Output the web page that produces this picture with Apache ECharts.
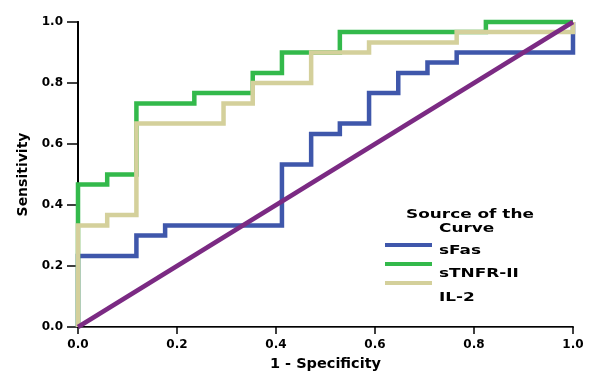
<!DOCTYPE html>
<html>
<head>
<meta charset="utf-8">
<script src="https://cdn.jsdelivr.net/npm/echarts@6/dist/echarts.min.js"></script>
<style>html,body{margin:0;padding:0;background:#fff;}#c{width:600px;height:379px;}</style>
</head>
<body>
<div id="c"></div>
<script>
// ROC curve vertices: [1 - specificity, sensitivity]
const seriesNames = ['sFas', 'sTNFR-II', 'IL-2'];
const seriesColors = ['#3f57ab', '#33b94b', '#d4d09b'];
const refColor = '#7b2a83';

const sFas = [[0,0],[0,0.233],[0.118,0.233],[0.118,0.3],[0.176,0.3],[0.176,0.333],[0.412,0.333],[0.412,0.533],[0.471,0.533],[0.471,0.633],[0.529,0.633],[0.529,0.667],[0.588,0.667],[0.588,0.767],[0.647,0.767],[0.647,0.833],[0.706,0.833],[0.706,0.867],[0.765,0.867],[0.765,0.9],[1,0.9],[1,1]];
const sTNFR = [[0,0],[0,0.467],[0.059,0.467],[0.059,0.5],[0.118,0.5],[0.118,0.733],[0.235,0.733],[0.235,0.767],[0.353,0.767],[0.353,0.833],[0.412,0.833],[0.412,0.9],[0.529,0.9],[0.529,0.967],[0.824,0.967],[0.824,1],[1,1]];
const il2 = [[0,0],[0,0.333],[0.059,0.333],[0.059,0.367],[0.118,0.367],[0.118,0.667],[0.294,0.667],[0.294,0.733],[0.353,0.733],[0.353,0.8],[0.471,0.8],[0.471,0.9],[0.588,0.9],[0.588,0.933],[0.765,0.933],[0.765,0.967],[1,0.967],[1,1]];
const refLine = [[0,0],[1,1]];

const FONT = 'DejaVu Sans';
const chart = echarts.init(document.getElementById('c'));

function lineSeries(name, data, color, z) {
  return {
    name: name, type: 'line', data: data, showSymbol: false, symbol: 'none',
    clip: false, z: z, animation: false,
    lineStyle: { color: color, width: 4.5, cap: 'butt', join: 'miter' }
  };
}

const legendX = 385, legendTop = 245, legendGap = 19;
const legendGraphics = [
  { type: 'text', left: 406, top: 208, scaleX: 1.3, style: { text: 'Source of the', font: 'bold 13px ' + FONT, fill: '#000' } },
  { type: 'text', left: 439, top: 222, scaleX: 1.3, style: { text: 'Curve', font: 'bold 13px ' + FONT, fill: '#000' } }
];
seriesNames.forEach(function (n, i) {
  const y = legendTop + i * legendGap;
  legendGraphics.push({ type: 'rect', shape: { x: legendX, y: y - 2, width: 47, height: 4 }, style: { fill: seriesColors[i] } });
  legendGraphics.push({ type: 'text', left: 439, top: legendTop - 1 + i * 23.5, scaleX: 1.3, style: { text: n, font: 'bold 13px ' + FONT, fill: '#000' } });
});

chart.setOption({
  animation: false,
  backgroundColor: '#fff',
  grid: { left: 78, right: 27, top: 22, bottom: 52 },
  xAxis: [{
    type: 'value', min: 0, max: 1, interval: 0.2,
    name: '1 - Specificity', nameLocation: 'middle', nameGap: 30,
    nameTextStyle: { fontFamily: FONT, fontWeight: 'bold', fontSize: 14.5, color: '#000' },
    axisLine: { show: true, lineStyle: { color: '#000', width: 2 } },
    axisTick: { show: true, length: 7, lineStyle: { color: '#000', width: 1.5 } },
    axisLabel: { fontFamily: FONT, fontWeight: 'bold', fontSize: 12, color: '#000', margin: 12, formatter: function (v) { return v.toFixed(1); } },
    splitLine: { show: false }
  }, {
    type: 'value', min: 0, max: 1, position: 'top',
    axisLine: { show: true, lineStyle: { color: '#555', width: 1 } },
    axisTick: { show: false }, axisLabel: { show: false }, splitLine: { show: false }
  }],
  yAxis: [{
    type: 'value', min: 0, max: 1, interval: 0.2,
    name: 'Sensitivity', nameLocation: 'middle', nameGap: 48, nameRotate: 90,
    nameTextStyle: { fontFamily: FONT, fontWeight: 'bold', fontSize: 14, color: '#000' },
    axisLine: { show: true, lineStyle: { color: '#000', width: 2 } },
    axisTick: { show: true, length: 11, lineStyle: { color: '#000', width: 1.5 } },
    axisLabel: { fontFamily: FONT, fontWeight: 'bold', fontSize: 12, color: '#000', margin: 15, formatter: function (v) { return v.toFixed(1); } },
    splitLine: { show: false }
  }, {
    type: 'value', min: 0, max: 1, position: 'right',
    axisLine: { show: true, lineStyle: { color: '#000', width: 2 } },
    axisTick: { show: false }, axisLabel: { show: false }, splitLine: { show: false }
  }],
  series: [
    lineSeries(seriesNames[0], sFas, seriesColors[0], 3),
    lineSeries(seriesNames[1], sTNFR, seriesColors[1], 4),
    lineSeries(seriesNames[2], il2, seriesColors[2], 5),
    lineSeries('Reference Line', refLine, refColor, 6)
  ],
  graphic: legendGraphics
});
</script>
</body>
</html>
